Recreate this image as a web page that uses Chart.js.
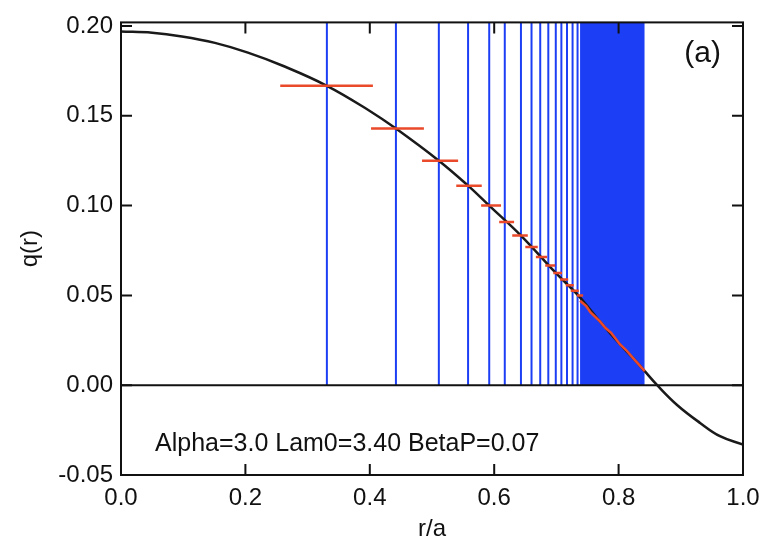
<!DOCTYPE html>
<html>
<head>
<meta charset="utf-8">
<script src="https://cdn.jsdelivr.net/npm/chart.js@4.4.1/dist/chart.umd.min.js"></script>
<style>
  html, body { margin: 0; padding: 0; background: #fff; }
</style>
</head>
<body>
<canvas id="chart" width="769" height="541"></canvas>
<script>
// axis ticks
const xTicks = [0.0, 0.2, 0.4, 0.6, 0.8, 1.0];
const yTicks = [-0.05, 0.00, 0.05, 0.10, 0.15, 0.20];
const Q_MIN = -0.05;
const Q_MAX = 0.202;

// q(r) profile
const curveR = [0, 0.05, 0.098, 0.151, 0.204, 0.259, 0.331, 0.4, 0.442, 0.511, 0.558, 0.592, 0.643, 0.699, 0.735, 0.77, 0.802, 0.823, 0.842, 0.862, 0.894, 0.931, 0.963, 1.0];
const curveQ = [0.197, 0.1963, 0.1942, 0.1906, 0.1852, 0.1780, 0.1667, 0.1527, 0.1429, 0.125, 0.1111, 0.100, 0.0833, 0.0625, 0.050, 0.0355, 0.0228, 0.0152, 0.0078, 0.0, -0.0110, -0.0210, -0.0284, -0.0331];

// rational surfaces (blue verticals) and the dense band
const rationalR = [0.331, 0.442, 0.511, 0.558, 0.592, 0.617, 0.643, 0.660, 0.674, 0.687, 0.699, 0.708, 0.717, 0.726, 0.734];
const denseBand = [0.738, 0.842];

// island widths (red bars)
const islandQ = [0.1667, 0.1429, 0.125, 0.1111, 0.100, 0.0909, 0.0833, 0.0769, 0.0714, 0.0667, 0.0625, 0.0588, 0.0556, 0.0526, 0.050];
const islandLeft = [0.256, 0.402, 0.484, 0.539, 0.579, 0.608, 0.629, 0.650, 0.667, 0.682, 0.695, 0.706, 0.715, 0.723, 0.733];
const islandRight = [0.405, 0.487, 0.542, 0.580, 0.611, 0.632, 0.654, 0.670, 0.685, 0.698, 0.709, 0.719, 0.728, 0.736, 0.743];

// overlapping islands inside the dense band
const traceR = [0.738, 0.748, 0.755, 0.770, 0.779, 0.788, 0.802, 0.812, 0.823, 0.842];
const traceQ = [0.0470, 0.0440, 0.0405, 0.0355, 0.0318, 0.0292, 0.0228, 0.0196, 0.0152, 0.0078];

const BLUE = '#1c3ef4';
const RED = '#ea4a2a';
const FONT = "'Liberation Sans', Arial, Helvetica, sans-serif";

const curveData = curveR.map((r, i) => ({ x: r, y: curveQ[i] }));
const rationalData = [];
rationalR.forEach(r => {
  rationalData.push({ x: r, y: 0 }, { x: r, y: Q_MAX }, { x: r, y: null });
});
const islandData = [];
islandQ.forEach((q, i) => {
  islandData.push({ x: islandLeft[i], y: q }, { x: islandRight[i], y: q }, { x: islandRight[i], y: null });
});
const traceData = traceR.map((r, i) => ({ x: r, y: traceQ[i] }));

// frame, inward ticks and text labels
const framePlugin = {
  id: 'frame',
  afterDatasetsDraw(chart) {
    const { ctx, chartArea: a, scales: { x, y } } = chart;
    ctx.save();
    ctx.strokeStyle = '#111';
    ctx.lineWidth = 2;
    ctx.strokeRect(a.left, a.top, a.right - a.left, a.bottom - a.top);
    ctx.beginPath();
    const tl = 11;
    x.ticks.forEach(t => {
      const px = x.getPixelForValue(t.value);
      if (px <= a.left + 1 || px >= a.right - 1) return;
      ctx.moveTo(px, a.bottom); ctx.lineTo(px, a.bottom - tl);
      ctx.moveTo(px, a.top); ctx.lineTo(px, a.top + tl);
    });
    y.ticks.forEach(t => {
      const py = y.getPixelForValue(t.value);
      if (py >= a.bottom - 1) return;
      ctx.moveTo(a.left, py); ctx.lineTo(a.left + tl, py);
      ctx.moveTo(a.right, py); ctx.lineTo(a.right - tl, py);
    });
    ctx.stroke();

    ctx.fillStyle = '#111';
    ctx.textBaseline = 'middle';
    ctx.textAlign = 'left';
    ctx.font = '25px ' + FONT;
    ctx.fillText('Alpha=3.0 Lam0=3.40 BetaP=0.07', a.left + 34, a.bottom - 31);
    ctx.textAlign = 'right';
    ctx.font = '30px ' + FONT;
    ctx.fillText('(a)', a.right - 22, a.top + 31);
    ctx.restore();
  }
};

new Chart(document.getElementById('chart'), {
  type: 'scatter',
  data: {
    datasets: [
      {
        label: 'dense band',
        data: [{ x: denseBand[0], y: Q_MAX }, { x: denseBand[1], y: Q_MAX }],
        showLine: true,
        fill: 'origin',
        backgroundColor: BLUE,
        borderWidth: 0,
        pointRadius: 0,
        order: 6
      },
      {
        label: 'rational surfaces',
        data: rationalData,
        showLine: true,
        spanGaps: false,
        borderColor: BLUE,
        borderWidth: 2,
        pointRadius: 0,
        order: 5
      },
      {
        label: 'zero',
        data: [{ x: 0, y: 0 }, { x: 1, y: 0 }],
        showLine: true,
        borderColor: '#111',
        borderWidth: 2,
        pointRadius: 0,
        order: 4
      },
      {
        label: 'q(r)',
        data: curveData,
        showLine: true,
        tension: 0.4,
        borderColor: '#1a1a1a',
        borderWidth: 2.5,
        pointRadius: 0,
        order: 3
      },
      {
        label: 'islands',
        data: islandData,
        showLine: true,
        spanGaps: false,
        borderColor: RED,
        borderWidth: 2.5,
        pointRadius: 0,
        order: 2
      },
      {
        label: 'overlap',
        data: traceData,
        showLine: true,
        borderColor: RED,
        borderWidth: 2.5,
        pointRadius: 0,
        order: 1
      }
    ]
  },
  options: {
    responsive: false,
    animation: false,
    events: [],
    devicePixelRatio: 1,
    layout: { padding: { top: 16, right: 26, left: 0, bottom: 0 } },
    plugins: { legend: { display: false }, tooltip: { enabled: false } },
    scales: {
      x: {
        type: 'linear',
        min: 0,
        max: 1,
        grid: { display: false, drawTicks: false },
        border: { display: false },
        afterBuildTicks: s => { s.ticks = xTicks.map(v => ({ value: v })); },
        afterFit: s => { s.height = 66; },
        ticks: {
          padding: 9,
          color: '#111',
          font: { family: FONT, size: 24 },
          callback: v => v.toFixed(1)
        },
        title: {
          display: true,
          text: 'r/a',
          color: '#111',
          font: { family: FONT, size: 24, lineHeight: 1 },
          padding: { top: 0, bottom: 0 }
        }
      },
      y: {
        type: 'linear',
        min: Q_MIN,
        max: Q_MAX,
        grid: { display: false, drawTicks: false },
        border: { display: false },
        afterBuildTicks: s => { s.ticks = yTicks.map(v => ({ value: v })); },
        afterFit: s => { s.width = 121; },
        ticks: {
          padding: 8,
          color: '#111',
          font: { family: FONT, size: 24 },
          callback: v => v.toFixed(2)
        },
        title: {
          display: true,
          text: 'q(r)',
          color: '#111',
          font: { family: FONT, size: 24 },
          padding: { top: 16, bottom: 0 }
        }
      }
    }
  },
  plugins: [framePlugin]
});
</script>
</body>
</html>
